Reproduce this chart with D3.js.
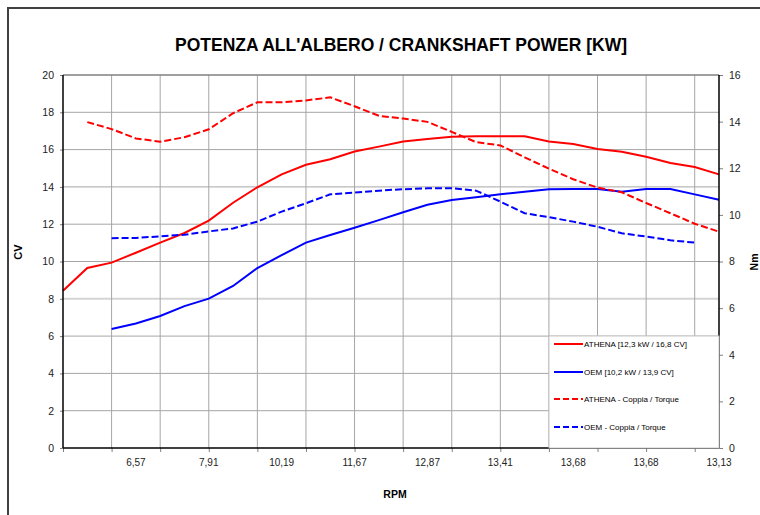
<!DOCTYPE html>
<html><head><meta charset="utf-8">
<script src="https://cdn.jsdelivr.net/npm/d3@7"></script>
<style>
body{margin:0;background:#fff}
svg{display:block}
text{font-family:"Liberation Sans",Arial,sans-serif}
</style>
</head><body>
<svg id="c" width="760" height="515"></svg>
<script>
// ---- data ----
const categories = ["","","","6,57","","","7,91","","","10,19","","","11,67","","","12,87","","","13,41","","","13,68","","","13,68","","","13,13"];
const leftTicks = [0,2,4,6,8,10,12,14,16,18,20];
const rightTicks = [0,2,4,6,8,10,12,14,16];
const athenaPower = [8.43,9.65,9.94,10.47,11.01,11.53,12.19,13.15,13.98,14.67,15.19,15.48,15.9,16.16,16.43,16.57,16.69,16.71,16.71,16.71,16.43,16.3,16.03,15.89,15.62,15.28,15.07,14.67];
const oemPower = [null,null,6.38,6.68,7.08,7.61,8.01,8.69,9.65,10.34,11.01,11.42,11.81,12.22,12.64,13.04,13.3,13.44,13.6,13.74,13.88,13.89,13.89,13.74,13.89,13.89,13.6,13.31];
const athenaTorque = [null,13.98,13.68,13.28,13.14,13.33,13.67,14.36,14.83,14.83,14.91,15.04,14.66,14.25,14.13,13.99,13.56,13.12,12.98,12.47,11.98,11.53,11.17,10.97,10.51,10.07,9.62,9.28];
const oemTorque = [null,null,9.0,9.01,9.08,9.15,9.29,9.42,9.71,10.14,10.5,10.88,10.96,11.04,11.1,11.14,11.14,11.04,10.57,10.07,9.9,9.71,9.49,9.21,9.07,8.91,8.81,null];
const seriesNames = ["ATHENA [12,3 kW / 16,8 CV]","OEM [10,2 kW / 13,9 CV]","ATHENA - Coppia / Torque","OEM - Coppia / Torque"];

// ---- layout ----
const svg = d3.select("#c");
const L = 63, R = 719, T = 75, B = 448;
const idx = categories.map((d,i)=>i);
const x = d3.scalePoint().domain(idx).range([L,R]);
const yL = d3.scaleLinear().domain([0,20]).range([B,T]);
const yR = d3.scaleLinear().domain([0,16]).range([B,T]);

// outer frame
svg.append("rect").attr("x",8).attr("y",8).attr("width",800).attr("height",600)
  .attr("fill","none").attr("stroke","#404040").attr("stroke-width",2);

// title
svg.append("text").attr("x",401).attr("y",51).attr("text-anchor","middle")
  .attr("font-weight","bold").attr("font-size",17.5).attr("fill","#000")
  .text("POTENZA ALL'ALBERO / CRANKSHAFT POWER [KW]");

// grid
const g = svg.append("g");
g.selectAll(".hg").data(leftTicks.filter(d=>d>0 && d<20)).join("line")
  .attr("x1",L).attr("x2",R).attr("y1",d=>yL(d)).attr("y2",d=>yL(d))
  .attr("stroke",d=>d===8?"#d4d4d4":"#a6a6a6").attr("stroke-width",d=>d===8?2:1);
g.selectAll(".vg").data(idx.filter(i=>i>0 && i%2===0)).join("line")
  .attr("x1",d=>x(d)).attr("x2",d=>x(d)).attr("y1",T).attr("y2",B)
  .attr("stroke","#a6a6a6").attr("stroke-width",1);

// top border
svg.append("line").attr("x1",L).attr("x2",R).attr("y1",T).attr("y2",T).attr("stroke","#808080").attr("stroke-width",1.5);

// lines
function drawLine(data, scale, color, dashed){
  const line = d3.line().defined(d=>d!=null).x((d,i)=>x(i)).y(d=>scale(d));
  svg.append("path").datum(data).attr("d",line).attr("fill","none")
    .attr("stroke",color).attr("stroke-width",2)
    .attr("stroke-dasharray",dashed?"7,3":null);
}
drawLine(athenaPower,yL,"#ff0000",false);
drawLine(oemPower,yL,"#0000ff",false);
drawLine(athenaTorque,yR,"#ff0000",true);
drawLine(oemTorque,yR,"#0000ff",true);

// axes
const axL = svg.append("g").attr("transform",`translate(${L},0)`)
  .call(d3.axisLeft(yL).tickValues(leftTicks).tickSize(3).tickPadding(6).tickFormat(d3.format("d")));
const axR = svg.append("g").attr("transform",`translate(${R},0)`)
  .call(d3.axisRight(yR).tickValues(rightTicks).tickSize(4).tickPadding(6).tickFormat(d3.format("d")));
const axB = svg.append("g").attr("transform",`translate(0,${B})`)
  .call(d3.axisBottom(x).tickValues(idx.filter(i=>i%2===0)).tickSize(4).tickFormat(()=>""));
[axL,axR,axB].forEach(a=>{
  a.select(".domain").remove();
  a.selectAll(".tick line").attr("stroke","#808080");
  a.selectAll("text").attr("font-size",10.5).attr("fill","#222").attr("font-family","Liberation Sans, Arial, sans-serif");
});
// category labels
svg.append("g").selectAll("text").data(idx.filter(i=>categories[i]!=="")).join("text")
  .attr("x",d=>x(d)).attr("y",466).attr("text-anchor","middle")
  .attr("font-size",10).attr("fill","#222").text(d=>categories[d]);

svg.append("line").attr("x1",L).attr("x2",L).attr("y1",T).attr("y2",B).attr("stroke","#000").attr("stroke-width",1.5);
svg.append("line").attr("x1",R).attr("x2",R).attr("y1",T).attr("y2",B).attr("stroke","#000").attr("stroke-width",1.5);
svg.append("line").attr("x1",L).attr("x2",R).attr("y1",B).attr("y2",B).attr("stroke","#000").attr("stroke-width",1.5);

// axis titles
svg.append("text").attr("transform","translate(22,252) rotate(-90)").attr("text-anchor","middle")
  .attr("font-weight","bold").attr("font-size",11).text("CV");
svg.append("text").attr("transform","translate(758,262) rotate(-90)").attr("text-anchor","middle")
  .attr("font-weight","bold").attr("font-size",10.5).text("Nm");
svg.append("text").attr("x",395).attr("y",498).attr("text-anchor","middle")
  .attr("font-weight","bold").attr("font-size",10.5).text("RPM");

// legend
const lg = svg.append("g");
lg.append("rect").attr("x",549).attr("y",336).attr("width",170).attr("height",112)
  .attr("fill","#fff").attr("stroke","#c8c8c8").attr("stroke-width",1);
const legendStyles = [["#ff0000",false],["#0000ff",false],["#ff0000",true],["#0000ff",true]];
const rowY = [344,372,399,427];
seriesNames.forEach((n,i)=>{
  lg.append("line").attr("x1",554).attr("x2",583).attr("y1",rowY[i]).attr("y2",rowY[i])
    .attr("stroke",legendStyles[i][0]).attr("stroke-width",2)
    .attr("stroke-dasharray",legendStyles[i][1]?"6,3":null);
  lg.append("text").attr("x",584).attr("y",rowY[i]+3).attr("font-size",8).attr("fill","#000").text(n);
});
</script>
</body></html>
